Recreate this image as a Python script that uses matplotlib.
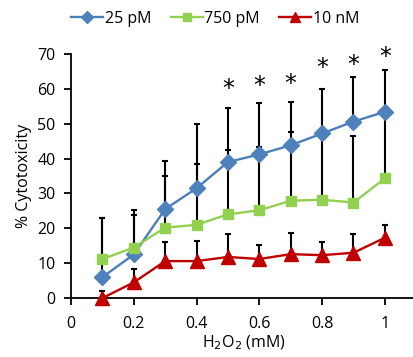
import matplotlib
matplotlib.use("Agg")
import matplotlib.pyplot as plt
import numpy as np

# H2O2 concentration (mM)
h2o2 = [0.1, 0.2, 0.3, 0.4, 0.5, 0.6, 0.7, 0.8, 0.9, 1.0]

# % cytotoxicity, mean and upper error per series
pm25 = [6, 12.5, 25.5, 31.5, 39, 41.2, 43.8, 47.2, 50.6, 53.4]
pm25_err = [17, 12.7, 13.8, 18.3, 15.6, 14.8, 12.4, 12.7, 12.9, 12]
pm750 = [11.2, 14.5, 20.2, 21, 24, 25.2, 27.9, 28.2, 27.4, 34.3]
pm750_err = [11.8, 9.3, 14.8, 17.4, 18.5, 18, 19.8, 18.8, 19.1, 18.7]
nm10 = [0, 4.5, 10.6, 10.6, 11.8, 11.2, 12.6, 12.3, 13, 17.3]
nm10_err = [2, 3.9, 5.6, 5.8, 6.6, 4.0, 6.1, 3.9, 5.4, 3.6]

# significance marks
star_x = [0.5, 0.6, 0.7, 0.8, 0.9, 1.0]
star_y = [60, 60.8, 61.4, 66, 66.8, 69.2]

plt.rcParams['font.family'] = ['Open Sans', 'DejaVu Sans']

fig = plt.figure(figsize=(4.14, 3.57), dpi=100)
ax = fig.add_axes([0.1715, 0.165, 0.834, 0.684])

series = [
    ("25 pM", pm25, pm25_err, "#4A7EBB", "#4F81BD", "D", 8),
    ("750 pM", pm750, pm750_err, "#92D050", "#92D050", "s", 7),
    ("10 nM", nm10, nm10_err, "#C00000", "#C00000", "^", 9.5),
]

for label, y, err, lc, mc, mk, ms in series:
    ax.errorbar(h2o2, y, yerr=[np.zeros(len(err)), err], fmt="none",
                ecolor="black", elinewidth=1.5, capsize=2.5, capthick=1.5,
                zorder=2)
    ax.plot(h2o2, y, color=lc, lw=1.7, marker=mk, markersize=ms,
            markerfacecolor=mc, markeredgecolor=mc, label=label, zorder=3,
            clip_on=False)

for sx, sy in zip(star_x, star_y):
    ax.text(sx, sy, "*", ha="center", va="center", fontsize=17,
            family="DejaVu Sans")

ax.set_xlim(0, 1.1)
ax.set_ylim(0, 70)
ax.set_xticks([0, 0.2, 0.4, 0.6, 0.8, 1.0])
ax.set_xticklabels(["0", "0.2", "0.4", "0.6", "0.8", "1"])
ax.set_yticks(range(0, 71, 10))
ax.tick_params(axis="both", labelsize=11.5, width=1.3, length=5, direction="out")
ax.tick_params(axis="x", pad=8)
ax.tick_params(axis="y", pad=6)
ax.spines["top"].set_visible(False)
ax.spines["right"].set_visible(False)
ax.spines["left"].set_linewidth(1.3)
ax.spines["bottom"].set_linewidth(1.3)

ax.set_ylabel("% Cytotoxicity", fontsize=11.5, labelpad=4)
ax.set_xlabel("H$_2$O$_2$ (mM)", fontsize=11.5, labelpad=1)

fig.legend(loc="upper center", bbox_to_anchor=(0.52, 1.01), ncol=3,
           frameon=False, fontsize=11.5, handlelength=2.0, handletextpad=0.1,
           columnspacing=1.2, markerscale=0.8)

fig.savefig("out.png", dpi=100)
